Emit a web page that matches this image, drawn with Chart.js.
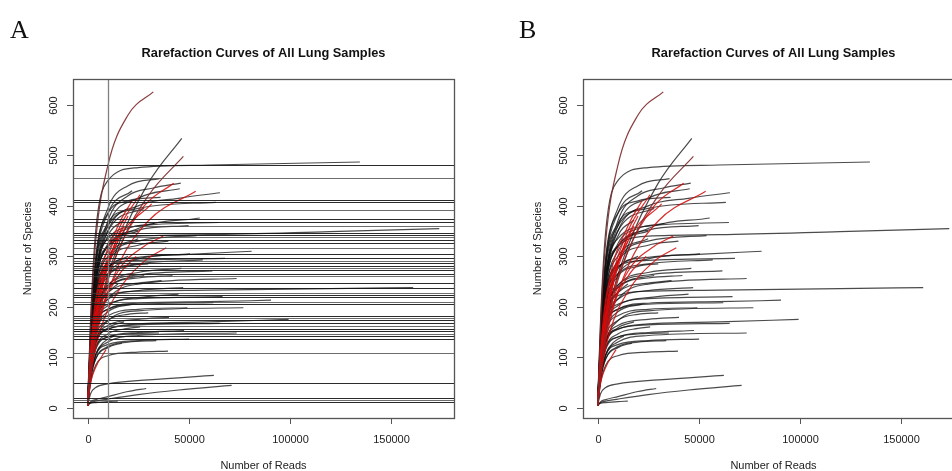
<!DOCTYPE html>
<html>
<head>
<meta charset="utf-8">
<script src="https://cdn.jsdelivr.net/npm/chart.js@4.4.0/dist/chart.umd.min.js"></script>
<style>
    html, body { margin: 0; padding: 0; background: #fff; overflow: hidden; }
    .panel { position: absolute; top: 0; height: 471px; overflow: hidden; }
    #panelA { left: 0; width: 476px; }
    #panelB { left: 476px; width: 476px; }
</style>
</head>
<body>
<div class="panel" id="panelA"><canvas id="chartA" width="476" height="471"></canvas></div>
<div class="panel" id="panelB"><canvas id="chartB" width="500" height="471"></canvas></div>
<script>
// axis ticks
const xTicks = [0, 50000, 100000, 150000];
const yTicks = [0, 100, 200, 300, 400, 500, 600];

// black rarefaction curves: reads sampled / species observed
const blackReads = [
    [0, 1500, 4000, 10000, 25000, 60000, 134800],
    [0, 2000, 6000, 15000, 30000, 46600],
    [0, 1500, 4000, 10000, 20000, 35600],
    [0, 1500, 4000, 10000, 20000, 32000, 46100],
    [0, 1500, 4000, 10000, 25000, 45600],
    [0, 1500, 4000, 10000, 25000, 45000, 65500],
    [0, 1500, 4000, 10000, 25000, 63500],
    [0, 1500, 4000, 10000, 20000, 36100],
    [0, 1500, 4000, 10000, 25000, 55500],
    [0, 1500, 4000, 10000, 25000, 65000],
    [0, 1500, 4000, 10000, 25000, 50000],
    [0, 1500, 4000, 10000, 25000, 60000, 120000, 174100],
    [0, 1500, 4000, 10000, 25000, 53900],
    [0, 1500, 4000, 10000, 25000, 50000, 81200],
    [0, 1500, 4000, 10000, 25000, 68000],
    [0, 1500, 4000, 10000, 25000, 50700],
    [0, 1500, 4000, 10000, 25000, 46400],
    [0, 1500, 4000, 10000, 25000, 61800],
    [0, 1500, 4000, 10000, 25000, 73800],
    [0, 1500, 4000, 10000, 25000, 60000, 120000, 161200],
    [0, 1500, 4000, 10000, 25000, 47300],
    [0, 1500, 4000, 10000, 25000, 66800],
    [0, 1500, 4000, 10000, 25000, 60000, 90800],
    [0, 1500, 4000, 10000, 25000, 77100],
    [0, 1500, 4000, 10000, 25000, 62200],
    [0, 1500, 4000, 10000, 25000, 49400],
    [0, 1500, 4000, 10000, 25000, 40300],
    [0, 1500, 4000, 10000, 25000, 60000, 99500],
    [0, 1500, 4000, 10000, 25000, 65400],
    [0, 1500, 4000, 10000, 25000, 47750],
    [0, 1500, 4000, 10000, 25000, 73800],
    [0, 1500, 4000, 10000, 20000, 35300],
    [0, 1500, 4000, 10000, 25000, 50250],
    [0, 1500, 4000, 10000, 25000, 39800],
    [0, 1500, 4000, 10000, 30000, 62500],
    [0, 1500, 4000, 10000, 20000, 29000],
    [0, 1500, 4000, 10000, 25000, 45000, 71300],
    [0, 1500, 4000, 10000, 14900],
    [0, 1500, 4000, 10000, 25000, 36600],
    [0, 1500, 4000, 10000, 20000, 30000],
    [0, 1500, 4000, 10000, 25000, 42000],
    [0, 1500, 4000, 10000, 25000],
    [0, 1500, 4000, 10000, 20000],
    [0, 1500, 4000, 10000, 25000, 40000],
    [0, 1500, 4000, 10000, 25000, 57000],
    [0, 1500, 4000, 10000, 22000],
    [0, 1500, 4000, 10000, 28000],
    [0, 1500, 4000, 10000, 18000],
    [0, 1500, 4000, 10000, 20000, 33000],
    [0, 1500, 4000, 10000, 25000],
    [0, 1500, 4000, 10000, 20000],
    [0, 1500, 4000, 10000, 28000],
    [0, 1500, 4000, 10000, 15000],
    [0, 1500, 4000, 10000, 25000, 45000],
    [0, 1500, 4000, 10000, 22000],
    [0, 1500, 4000, 10000, 20000, 30000],
    [0, 1500, 4000, 10000, 18000],
    [0, 1500, 4000, 10000, 20000, 26000],
    [0, 1500, 4000, 8000, 13000],
    [0, 1500, 4000, 10000, 20000, 34000],
    [0, 1500, 4000, 10000, 17000]
];
const blackSpecies = [
    [5, 180, 350, 450, 476, 481, 487],
    [5, 90, 200, 320, 445, 534],
    [5, 140, 290, 395, 440, 454],
    [5, 125, 260, 370, 420, 435, 445],
    [5, 120, 255, 360, 415, 434],
    [5, 110, 245, 350, 400, 415, 426],
    [5, 135, 275, 360, 395, 407],
    [5, 155, 300, 385, 410, 417],
    [5, 105, 230, 310, 355, 376],
    [5, 140, 265, 335, 360, 367],
    [5, 110, 240, 320, 352, 361],
    [5, 135, 255, 320, 340, 343, 349, 355],
    [5, 100, 210, 290, 330, 341],
    [5, 120, 220, 278, 298, 304, 310],
    [5, 135, 230, 280, 292, 296],
    [5, 100, 200, 265, 295, 305],
    [5, 90, 185, 242, 268, 276],
    [5, 105, 195, 243, 263, 271],
    [5, 85, 165, 215, 245, 256],
    [5, 115, 185, 222, 231, 233, 236, 238],
    [5, 100, 175, 215, 232, 238],
    [5, 105, 172, 205, 216, 220],
    [5, 90, 160, 195, 207, 210, 213],
    [5, 70, 130, 172, 192, 198],
    [5, 100, 163, 195, 205, 208],
    [5, 85, 150, 182, 195, 198],
    [5, 78, 132, 163, 175, 179],
    [5, 78, 128, 155, 166, 170, 175],
    [5, 85, 133, 156, 164, 167],
    [5, 70, 115, 140, 149, 153],
    [5, 63, 105, 130, 143, 148],
    [5, 78, 120, 140, 146, 148],
    [5, 63, 104, 125, 133, 136],
    [5, 50, 84, 103, 110, 112],
    [5, 28, 40, 47, 55, 64],
    [5, 12, 16, 22, 32, 38],
    [5, 10, 13, 17, 26, 35, 44],
    [5, 9, 10, 12, 13],
    [5, 90, 176, 228, 247, 252],
    [5, 105, 202, 260, 280, 285],
    [5, 98, 185, 238, 257, 262],
    [5, 125, 245, 320, 350],
    [5, 150, 285, 365, 395],
    [5, 105, 220, 290, 322, 330],
    [5, 112, 212, 265, 285, 293],
    [5, 140, 285, 385, 430],
    [5, 120, 255, 350, 395],
    [5, 125, 255, 340, 372],
    [5, 120, 245, 325, 355, 365],
    [5, 112, 230, 300, 335],
    [5, 112, 212, 275, 300],
    [5, 98, 185, 238, 262],
    [5, 105, 185, 228, 245],
    [5, 90, 163, 202, 218, 225],
    [5, 84, 150, 190, 205],
    [5, 84, 141, 173, 185, 188],
    [5, 77, 128, 158, 170],
    [5, 70, 119, 146, 157, 160],
    [5, 63, 106, 130, 142],
    [5, 56, 97, 121, 130, 133],
    [5, 60, 97, 119, 128]
];

// red rarefaction curves
const redReads = [
    [0, 1500, 4000, 10000, 20000, 32500],
    [0, 2000, 6000, 15000, 30000, 47400],
    [0, 2000, 6000, 15000, 28000, 42600],
    [0, 2000, 6000, 15000, 30000, 53500],
    [0, 2000, 6000, 15000, 28000, 38950],
    [0, 1500, 4000, 9100],
    [0, 2000, 6000, 15000, 28000, 37400],
    [0, 2000, 6000, 15000, 25900],
    [0, 2000, 6000, 15000, 31700],
    [0, 2000, 6000, 14000, 20000],
    [0, 2000, 5000, 10000, 15000],
    [0, 1500, 4000, 8000, 12000],
    [0, 2000, 6000, 12000, 18000],
    [0, 1500, 4000, 8000],
    [0, 1500, 3500, 6000],
    [0, 2000, 6000, 15000, 24000],
    [0, 1500, 4000],
    [0, 2000, 5000, 10000],
    [0, 2000, 6000, 15000, 22000],
    [0, 1000, 3000, 6000]
];
const redSpecies = [
    [5, 170, 330, 480, 580, 626],
    [5, 90, 190, 310, 420, 498],
    [5, 100, 200, 310, 400, 445],
    [5, 80, 170, 280, 370, 429],
    [5, 75, 150, 230, 290, 317],
    [5, 50, 80, 115],
    [5, 90, 180, 270, 320, 340],
    [5, 120, 235, 350, 422],
    [5, 105, 215, 330, 404],
    [5, 115, 225, 330, 380],
    [5, 105, 205, 290, 330],
    [5, 115, 215, 275, 300],
    [5, 105, 215, 310, 360],
    [5, 110, 190, 250],
    [5, 100, 170, 210],
    [5, 90, 180, 260, 300],
    [5, 95, 160],
    [5, 95, 180, 240],
    [5, 130, 255, 360, 410],
    [5, 80, 140, 190]
];
const brownCurves = [0, 1];

// panel A reference lines
const hLines = [482, 456, 412, 407, 391, 374, 369, 360, 347, 343, 338, 333, 326, 317, 305,
    296, 291, 287, 281, 277, 272, 265, 260, 248, 238, 228, 224, 220, 210, 205,
    182, 177, 173, 168, 162, 156, 151, 146, 142, 136, 108, 48, 20, 15, 11];
const vLines = [10000];

function buildDatasets() {
    const sets = [];
    redReads.forEach((reads, i) => {
        sets.push({
            data: reads.map((r, j) => ({ x: r, y: redSpecies[i][j] })),
            borderColor: brownCurves.includes(i) ? 'rgba(125,40,40,0.9)' : 'rgba(210,10,10,0.85)',
            order: 0
        });
    });
    blackReads.forEach((reads, i) => {
        sets.push({
            data: reads.map((r, j) => ({ x: r, y: blackSpecies[i][j] })),
            borderColor: 'rgba(15,15,15,0.75)',
            order: 1
        });
    });
    sets.forEach(s => {
        s.showLine = true;
        s.pointRadius = 0;
        s.borderWidth = 1.2;
        s.cubicInterpolationMode = 'monotone';
        s.fill = false;
    });
    return sets;
}

// draws the R style frame, axes, texts and ablines
const rFrame = {
    id: 'rFrame',
    afterDatasetsDraw(chart, args, opts) {
        const { ctx, chartArea: a, scales: { x, y } } = chart;
        ctx.save();

        ctx.lineWidth = 1;
        (opts.h || []).forEach((v, i) => {
            const py = Math.round(y.getPixelForValue(v)) + 0.5;
            ctx.strokeStyle = i % 3 === 1 ? 'rgba(60,60,60,0.75)' : 'rgba(20,20,20,0.9)';
            ctx.beginPath();
            ctx.moveTo(a.left, py);
            ctx.lineTo(a.right, py);
            ctx.stroke();
        });
        (opts.v || []).forEach(v => {
            const px = Math.round(x.getPixelForValue(v)) + 0.5;
            ctx.strokeStyle = '#808080';
            ctx.lineWidth = 1.3;
            ctx.beginPath();
            ctx.moveTo(px, a.top);
            ctx.lineTo(px, a.bottom);
            ctx.stroke();
        });

        // box
        ctx.strokeStyle = '#555';
        ctx.lineWidth = 1.3;
        ctx.strokeRect(Math.round(a.left) + 0.5, Math.round(a.top) + 0.5, Math.round(a.width), Math.round(a.height));

        ctx.fillStyle = '#222';
        ctx.strokeStyle = '#555';
        ctx.lineWidth = 1;
        ctx.font = '11px "Liberation Sans", Arial, sans-serif';

        // x axis
        ctx.textAlign = 'center';
        ctx.textBaseline = 'middle';
        xTicks.forEach(t => {
            const px = Math.round(x.getPixelForValue(t)) + 0.5;
            ctx.beginPath();
            ctx.moveTo(px, a.bottom);
            ctx.lineTo(px, a.bottom + 6);
            ctx.stroke();
            ctx.fillText(String(t), px, a.bottom + 22);
        });

        // y axis, labels turned like R
        yTicks.forEach(t => {
            const py = Math.round(y.getPixelForValue(t)) + 0.5;
            ctx.beginPath();
            ctx.moveTo(a.left, py);
            ctx.lineTo(a.left - 6, py);
            ctx.stroke();
            ctx.save();
            ctx.translate(a.left - 19, py);
            ctx.rotate(-Math.PI / 2);
            ctx.fillText(String(t), 0, 0);
            ctx.restore();
        });

        const cx = (a.left + a.right) / 2;
        const cy = (a.top + a.bottom) / 2;
        ctx.fillText('Number of Reads', cx, 466);
        ctx.save();
        ctx.translate(a.left - 45, cy);
        ctx.rotate(-Math.PI / 2);
        ctx.fillText('Number of Species', 0, 0);
        ctx.restore();

        ctx.font = 'bold 12.8px "Liberation Sans", Arial, sans-serif';
        ctx.fillStyle = '#111';
        ctx.fillText('Rarefaction Curves of All Lung Samples', cx, 53);

        ctx.font = '26px "Liberation Serif", "Times New Roman", serif';
        ctx.textAlign = 'left';
        ctx.textBaseline = 'alphabetic';
        ctx.fillText(opts.letter, opts.letterX, 38);

        ctx.restore();
    }
};

function makeChart(id, padding, frame) {
    return new Chart(document.getElementById(id), {
        type: 'scatter',
        data: { datasets: buildDatasets() },
        options: {
            responsive: false,
            animation: false,
            layout: { padding: padding },
            plugins: {
                legend: { display: false },
                tooltip: { enabled: false },
                rFrame: frame
            },
            scales: {
                x: { type: 'linear', display: false, min: -7250, max: 181400 },
                y: { type: 'linear', display: false, min: -20.5, max: 651.5 }
            }
        },
        plugins: [rFrame]
    });
}

makeChart('chartA', { left: 73, top: 79, right: 22, bottom: 53 },
    { h: hLines, v: vLines, letter: 'A', letterX: 10 });
makeChart('chartB', { left: 107, top: 79, right: 12, bottom: 53 },
    { h: [], v: [], letter: 'B', letterX: 43 });
</script>
</body>
</html>
